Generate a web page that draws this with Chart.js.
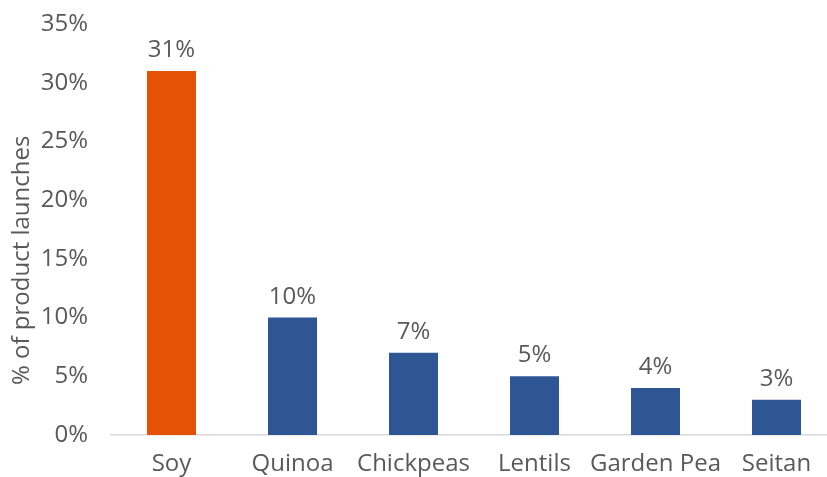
<!DOCTYPE html>
<html>
<head>
<meta charset="utf-8">
<script src="https://cdn.jsdelivr.net/npm/chart.js@4/dist/chart.umd.min.js"></script>
<style>
  html, body { margin: 0; padding: 0; background: #ffffff; overflow: hidden; }
  #wrap { position: relative; width: 840px; height: 477px; }
</style>
</head>
<body>
<div id="wrap"><canvas id="c"></canvas></div>
<script>
const categories = ["Soy", "Quinoa", "Chickpeas", "Lentils", "Garden Pea", "Seitan"];
const shareValues = [31, 10, 7, 5, 4, 3];
const barColors = ["#E35205", "#2E5594", "#2E5594", "#2E5594", "#2E5594", "#2E5594"];
const yAxisTitle = "% of product launches";
const yMax = 35;
const yStep = 5;

const FONT = "'Open Sans', sans-serif";
const TEXT = "#595959";
const FS = 24;

const extras = {
  id: "extras",
  afterDatasetsDraw(chart) {
    const ctx = chart.ctx;
    const meta = chart.getDatasetMeta(0);
    ctx.save();
    ctx.fillStyle = TEXT;
    ctx.font = FS + "px " + FONT;
    ctx.textAlign = "center";
    ctx.textBaseline = "alphabetic";
    meta.data.forEach((bar, i) => {
      ctx.fillText(shareValues[i] + "%", bar.x, bar.y - 14);
    });
    ctx.restore();
  },
  afterDraw(chart) {
    const ctx = chart.ctx;
    const a = chart.chartArea;
    ctx.save();
    ctx.fillStyle = TEXT;
    ctx.font = FS + "px " + FONT;
    ctx.translate(22, a.bottom - 50);
    ctx.rotate(-Math.PI / 2);
    ctx.textAlign = "left";
    ctx.textBaseline = "middle";
    ctx.fillText(yAxisTitle, 0, 0);
    ctx.restore();
  }
};

new Chart(document.getElementById("c"), {
  type: "bar",
  data: {
    labels: categories,
    datasets: [{
      data: shareValues,
      backgroundColor: barColors,
      borderWidth: 0,
      barPercentage: 1,
      categoryPercentage: 0.405
    }]
  },
  options: {
    responsive: true,
    maintainAspectRatio: false,
    animation: false,
    layout: { padding: { top: 24, right: 3, bottom: 0, left: 0 } },
    plugins: { legend: { display: false }, tooltip: { enabled: false } },
    scales: {
      x: {
        afterFit(scale) { scale.height = 42; },
        grid: { display: false, drawTicks: false },
        border: { display: true, color: "#D9D9D9", width: 1.5 },
        ticks: { color: TEXT, font: { family: FONT, size: FS }, padding: 15, maxRotation: 0, autoSkip: false }
      },
      y: {
        min: 0,
        max: yMax,
        afterFit(scale) { scale.width = 111; scale.paddingTop = 0; scale.paddingBottom = 0; },
        grid: { display: false, drawTicks: false },
        border: { display: false },
        ticks: {
          stepSize: yStep,
          color: TEXT,
          font: { family: FONT, size: FS },
          padding: 23,
          callback: v => v + "%"
        }
      }
    }
  },
  plugins: [extras]
});
</script>
</body>
</html>
